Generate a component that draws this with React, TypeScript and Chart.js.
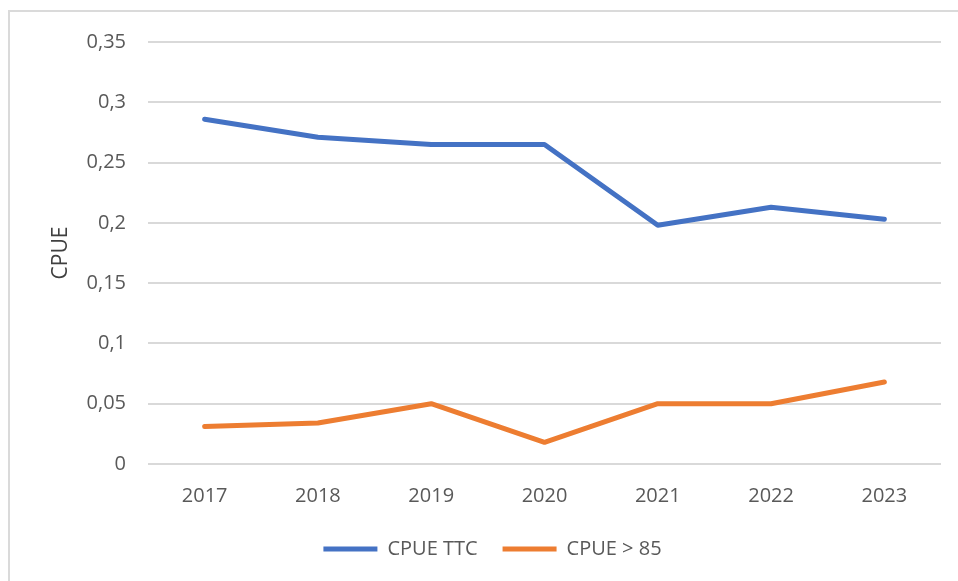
import React, { useEffect, useRef } from "react";
import { Chart, registerables } from "chart.js";

Chart.register(...registerables);

const years = ["2017", "2018", "2019", "2020", "2021", "2022", "2023"];
const cpueTTC = [0.286, 0.271, 0.265, 0.265, 0.198, 0.213, 0.203];
const cpue85 = [0.031, 0.034, 0.05, 0.018, 0.05, 0.05, 0.068];
const seriesNames = ["CPUE TTC", "CPUE > 85"];
const yTicks = [0, 0.05, 0.1, 0.15, 0.2, 0.25, 0.3, 0.35];

const FONT = "'Open Sans', 'Noto Sans', sans-serif";
const TXT = "#595959";
const GRID = "#d9d9d9";

const legendShift = {
  id: "legendShift",
  afterLayout(chart: any) {
    const lg = chart.legend;
    if (lg) {
      lg.left += 22;
      lg.right += 22;
    }
  },
};

export default function App() {
  const ref = useRef<HTMLCanvasElement | null>(null);
  useEffect(() => {
    if (!ref.current) return;
    const chart = new Chart(ref.current, {
      type: "line",
      data: {
        labels: years,
        datasets: [
          {
            label: seriesNames[0],
            data: cpueTTC,
            borderColor: "#4472C4",
            backgroundColor: "#4472C4",
            borderWidth: 5,
            pointRadius: 0,
            borderCapStyle: "round",
            borderJoinStyle: "round",
            tension: 0,
          },
          {
            label: seriesNames[1],
            data: cpue85,
            borderColor: "#ED7D31",
            backgroundColor: "#ED7D31",
            borderWidth: 5,
            pointRadius: 0,
            borderCapStyle: "round",
            borderJoinStyle: "round",
            tension: 0,
          },
        ],
      },
      plugins: [legendShift],
      options: {
        animation: false,
        responsive: false,
        maintainAspectRatio: false,
        layout: { padding: { left: 0, right: 17, top: 42, bottom: 12 } },
        plugins: {
          tooltip: { enabled: false },
          legend: {
            position: "bottom",
            labels: {
              usePointStyle: true,
              pointStyle: "line",
              pointStyleWidth: 54,
              color: TXT,
              font: { family: FONT, size: 20 },
              padding: 25,
            },
          },
        },
        scales: {
          x: {
            offset: true,
            grid: { display: false, drawTicks: false },
            border: { display: false },
            ticks: { color: TXT, font: { family: FONT, size: 20 }, padding: 20 },
            afterFit: (s: any) => {
              s.height = 50;
            },
          },
          y: {
            min: 0,
            max: 0.35,
            afterBuildTicks: (s: any) => {
              s.ticks = yTicks.map((v) => ({ value: v }));
            },
            grid: { color: GRID, lineWidth: 2, drawTicks: false },
            border: { display: false },
            ticks: {
              color: TXT,
              font: { family: FONT, size: 20 },
              padding: 22,
              callback: (v: any) => String(Math.round(Number(v) * 100) / 100).replace(".", ","),
            },
            title: {
              display: true,
              text: "CPUE",
              color: "#404040",
              font: { family: FONT, size: 21 },
              padding: { top: 48, bottom: 0 },
            },
            afterFit: (s: any) => {
              s.width = 148;
            },
          },
        },
      },
    });
    return () => chart.destroy();
  }, []);
  return (
    <div style={{ position: "absolute", left: 0, top: 0, width: 958, height: 581, background: "#fff" }}>
      <canvas ref={ref} width={958} height={581} style={{ position: "absolute", left: 0, top: 0 }} />
      <div
        style={{
          position: "absolute",
          left: 8,
          top: 10,
          width: 950,
          height: 571,
          borderTop: "2px solid #dadada",
          borderLeft: "2px solid #dadada",
          pointerEvents: "none",
        }}
      />
    </div>
  );
}
